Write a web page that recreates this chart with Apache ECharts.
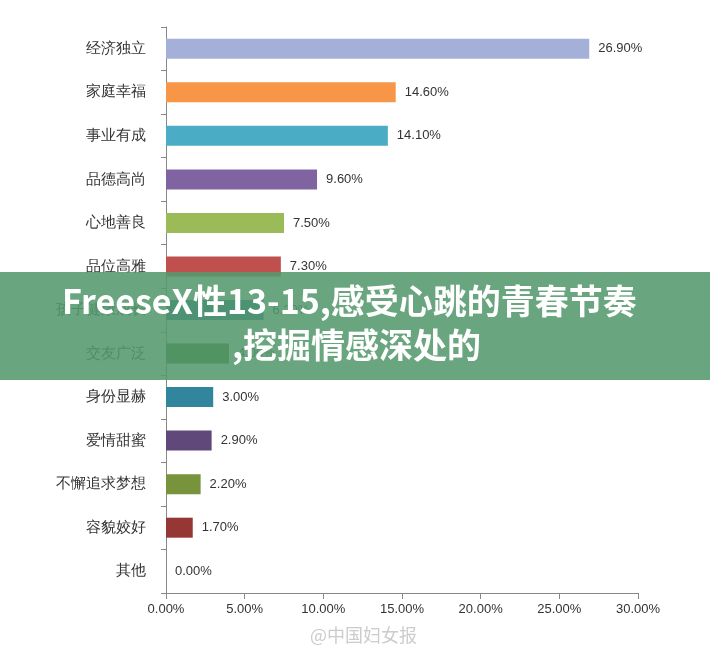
<!DOCTYPE html>
<html><head><meta charset="utf-8">
<script src="https://cdn.jsdelivr.net/npm/echarts@6/dist/echarts.min.js"></script>
<style>html,body{margin:0;padding:0;background:#fff}</style>
</head><body>
<div id="chart" style="width:710px;height:655px"></div>
<script>
var categories = ['经济独立', '家庭幸福', '事业有成', '品德高尚', '心地善良', '品位高雅', '孩子健康成长', '交友广泛', '身份显赫', '爱情甜蜜', '不懈追求梦想', '容貌姣好', '其他'];
var values = [26.9, 14.6, 14.1, 9.6, 7.5, 7.3, 6.2, 4.0, 3.0, 2.9, 2.2, 1.7, 0];
var colors = ['#a5b0d8', '#f79646', '#4bacc6', '#8064a2', '#9bbb59', '#c0504d', '#1f6fa0', '#3d6a1e', '#31859c', '#60497a', '#77933c', '#953735', '#888'];
var ticks = [0, 5, 10, 15, 20, 25, 30];

var chart = echarts.init(document.getElementById('chart'));
chart.setOption({
  animation: false,
  grid: { left: 166, right: 72, top: 27, bottom: 62 },
  xAxis: {
    type: 'value', min: 0, max: 30, interval: 5,
    axisLine: { show: true, lineStyle: { color: '#888' } },
    axisTick: { show: true, length: 6, lineStyle: { color: '#888' } },
    splitLine: { show: false },
    axisLabel: { color: '#333', fontSize: 13, margin: 10, formatter: function (v) { return v.toFixed(2) + '%'; } }
  },
  yAxis: {
    type: 'category', inverse: true, data: categories,
    axisLine: { show: true, lineStyle: { color: '#888' } },
    axisTick: { show: true, length: 5, lineStyle: { color: '#888' } },
    axisLabel: { color: '#333', fontSize: 15, margin: 20 }
  },
  series: [{
    type: 'bar', barWidth: 20,
    data: values.map(function (v, i) { return { value: v, itemStyle: { color: colors[i] } }; }),
    label: { show: true, position: 'right', distance: 9, color: '#333', fontSize: 13,
      formatter: function (p) { return p.value.toFixed(2) + '%'; } }
  }],
  graphic: [
    { type: 'rect', left: 0, top: 272, shape: { width: 710, height: 108 }, style: { fill: 'rgba(84,152,108,0.88)' }, z: 100 },
    { type: 'text', left: 62, top: 284, style: { text: 'FreeseX性13-15,感受心跳的青春节奏', fill: '#fff', font: 'bold 34px "Noto Sans CJK SC", sans-serif' }, z: 101 },
    { type: 'text', left: 232, top: 328, style: { text: ',挖掘情感深处的', fill: '#fff', font: 'bold 34px "Noto Sans CJK SC", sans-serif' }, z: 101 },
    { type: 'text', left: 310, top: 626, style: { text: '@中国妇女报', fill: '#ccc', font: '18px "Noto Sans CJK SC", sans-serif' }, z: 101 }
  ]
});
</script>
</body></html>
